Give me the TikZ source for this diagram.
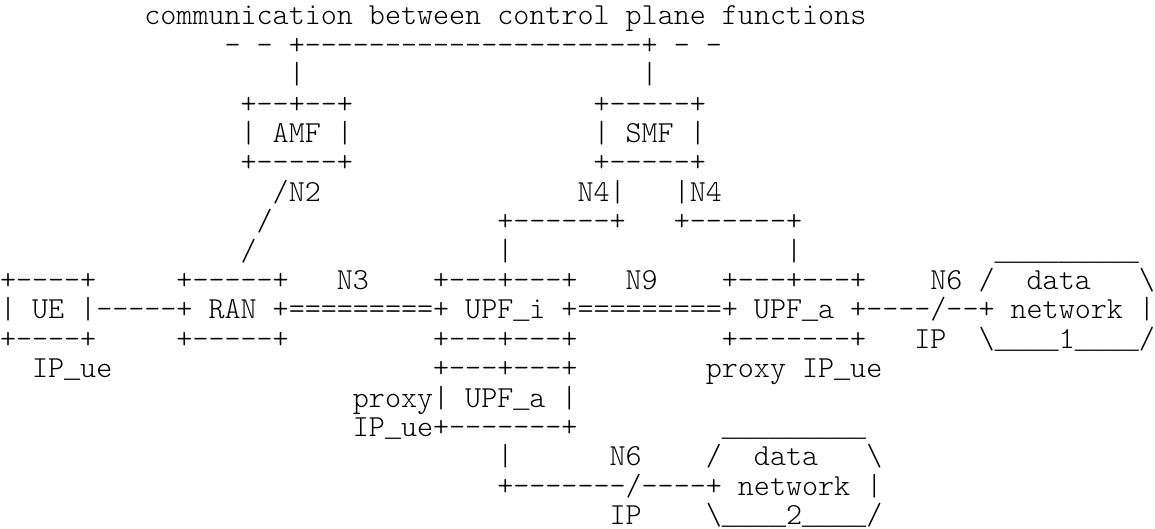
\documentclass[tikz,border=0pt]{standalone}
\usepackage{fontspec}
\usepackage{tikz}
\newfontfamily\asciifont{Latin Modern Mono Light}[Ligatures=TeXOff]
\newfontfamily\barfont{Liberation Mono}
\newcommand{\bars}[1]{{\barfont\fontsize{10pt}{12pt}\selectfont\foreach \i in {1,...,#1}{\_}}}

\begin{document}
\begin{tikzpicture}[x=6pt, y=10.992pt,
    ascii/.style={font=\asciifont\fontsize{11.43pt}{12pt}\selectfont, inner sep=0pt, outer sep=0pt, anchor=base west}]
        \path[use as bounding box, fill=white] (0,0.85) rectangle (72,-17.15);
        \node[ascii] (title) at (9,0) {communication between control plane functions};
        \node[ascii] (bus) at (14,-1) {- - +---------------------+ - -};
        \node[ascii] (busAmf) at (18,-2) {|};
        \node[ascii] (busSmf) at (40,-2) {|};
        \node[ascii] (amfTop) at (15,-3) {+--+--+};
        \node[ascii] (smfTop) at (37,-3) {+-----+};
        \node[ascii] (amf) at (15,-4) {| AMF |};
        \node[ascii] (smf) at (37,-4) {| SMF |};
        \node[ascii] (amfBot) at (15,-5) {+-----+};
        \node[ascii] (smfBot) at (37,-5) {+-----+};
        \node[ascii] (nTwo) at (17,-6) {/N2};
        \node[ascii] (nFourI) at (36,-6) {N4|};
        \node[ascii] (nFourA) at (42,-6) {|N4};
        \node[ascii] (nTwoMid) at (16,-7) {/};
        \node[ascii] (smfUpfi) at (31,-7) {+------+};
        \node[ascii] (smfUpfa) at (42,-7) {+------+};
        \node[ascii] (nTwoLow) at (15,-8) {/};
        \node[ascii] (upfiUp) at (31,-8) {|};
        \node[ascii] (upfaUp) at (49,-8) {|};
        \node[ascii] (dnOneTop) at (62,-8) {\bars{9}};
        \node[ascii] (ueTop) at (0,-9) {+----+};
        \node[ascii] (ranTop) at (11,-9) {+-----+};
        \node[ascii] (nThree) at (21,-9) {N3};
        \node[ascii] (upfiTop) at (27,-9) {+---+---+};
        \node[ascii] (nNine) at (39,-9) {N9};
        \node[ascii] (upfaTop) at (45,-9) {+---+---+};
        \node[ascii] (nSixA) at (58,-9) {N6};
        \node[ascii] (dnOneL) at (61,-9) {/};
        \node[ascii] (dnOneData) at (64,-9) {data};
        \node[ascii] (dnOneR) at (71,-9) {\textbackslash};
        \node[ascii] (ue) at (0,-10) {| UE |};
        \node[ascii] (ueRan) at (6,-10) {-----};
        \node[ascii] (ran) at (11,-10) {+ RAN +};
        \node[ascii] (ranUpfi) at (18,-10) {=========};
        \node[ascii] (upfi) at (27,-10) {+ UPF\bars{1}i +};
        \node[ascii] (upfiUpfa) at (36,-10) {=========};
        \node[ascii] (upfa) at (45,-10) {+ UPF\bars{1}a +};
        \node[ascii] (upfaDn) at (54,-10) {----/--};
        \node[ascii] (dnOne) at (61,-10) {+ network |};
        \node[ascii] (ueBot) at (0,-11) {+----+};
        \node[ascii] (ranBot) at (11,-11) {+-----+};
        \node[ascii] (upfiBot) at (27,-11) {+---+---+};
        \node[ascii] (upfaBot) at (45,-11) {+-------+};
        \node[ascii] (ipA) at (57,-11) {IP};
        \node[ascii] (dnOneBot) at (61,-11) {\textbackslash\bars{4}1\bars{4}/};
        \node[ascii] (ipUe) at (2,-12) {IP\bars{1}ue};
        \node[ascii] (upfLocTop) at (27,-12) {+---+---+};
        \node[ascii] (proxyA) at (44,-12) {proxy IP\bars{1}ue};
        \node[ascii] (upfLoc) at (22,-13) {proxy| UPF\bars{1}a |};
        \node[ascii] (upfLocBot) at (22,-14) {IP\bars{1}ue+-------+};
        \node[ascii] (dnTwoTop) at (45,-14) {\bars{9}};
        \node[ascii] (upfLocDown) at (31,-15) {|};
        \node[ascii] (nSixB) at (38,-15) {N6};
        \node[ascii] (dnTwoL) at (44,-15) {/};
        \node[ascii] (dnTwoData) at (47,-15) {data};
        \node[ascii] (dnTwoR) at (54,-15) {\textbackslash};
        \node[ascii] (upfLocDn) at (31,-16) {+-------/----};
        \node[ascii] (dnTwo) at (44,-16) {+ network |};
        \node[ascii] (ipB) at (38,-17) {IP};
        \node[ascii] (dnTwoBot) at (44,-17) {\textbackslash\bars{4}2\bars{4}/};
  \end{tikzpicture}
\end{document}
